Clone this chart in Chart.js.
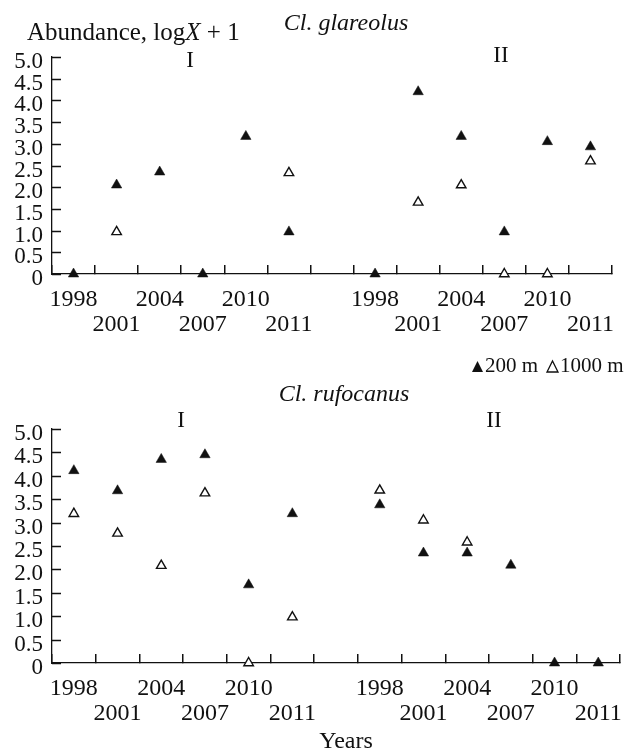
<!DOCTYPE html>
<html>
<head>
<meta charset="utf-8">
<script src="https://cdn.jsdelivr.net/npm/chart.js@4/dist/chart.umd.min.js"></script>
<style>
  body { margin: 0; background: #fff; }
  #wrap { position: relative; width: 627px; height: 754px; }
  canvas { position: absolute; left: 0; }
</style>
</head>
<body>
<div id="wrap">
  <canvas id="glareolus" width="627" height="340" style="top:0"></canvas>
  <canvas id="rufocanus" width="627" height="414" style="top:340px"></canvas>
</div>
<script>
const years = ["1998", "2001", "2004", "2007", "2010", "2011"];
const yTickLabels = ["0", "0.5", "1.0", "1.5", "2.0", "2.5", "3.0", "3.5", "4.0", "4.5", "5.0"];
const seriesNames = ["200 m", "1000 m"];

// Cl. glareolus, sites I and II
const glaI200 = [0, 2.05, 2.35, 0, 3.17, 0.97];
const glaI1000 = [null, 0.97, null, null, null, 2.33];
const glaII200 = [0, 4.2, 3.17, 0.97, 3.05, 2.93];
const glaII1000 = [null, 1.65, 2.05, 0, 0, 2.6];

// Cl. rufocanus, sites I and II
const rufI200 = [4.11, 3.68, 4.35, 4.45, 1.67, 3.19];
const rufI1000 = [3.19, 2.77, 2.08, 3.63, 0, 0.98];
const rufII200 = [3.38, 2.35, 2.35, 2.09, 0, 0];
const rufII1000 = [3.69, 3.05, 2.58, null, null, null];

const FONT = "'Liberation Serif', 'Times New Roman', serif";
const INK = "#111";

// one empty slot between site I and site II
const slotLabels = [...years, "", ...years];
const join = (a, b) => [...a, null, ...b];

function drawParts(ctx, parts, x, y, size, align) {
  ctx.save();
  ctx.fillStyle = INK;
  ctx.textBaseline = "alphabetic";
  let total = 0;
  parts.forEach(p => {
    ctx.font = (p.italic ? "italic " : "") + size + "px " + FONT;
    p.w = ctx.measureText(p.t).width;
    total += p.w;
  });
  let cx = align === "center" ? x - total / 2 : x;
  parts.forEach(p => {
    ctx.font = (p.italic ? "italic " : "") + size + "px " + FONT;
    ctx.fillText(p.t, cx, y);
    cx += p.w;
  });
  ctx.restore();
}

function triangle(ctx, x, base, w, h, filled) {
  ctx.beginPath();
  ctx.moveTo(x, base);
  ctx.lineTo(x + w, base);
  ctx.lineTo(x + w / 2, base - h);
  ctx.closePath();
  if (filled) { ctx.fillStyle = INK; ctx.fill(); }
  else { ctx.fillStyle = "#fff"; ctx.fill(); ctx.lineWidth = 1.3; ctx.strokeStyle = INK; ctx.stroke(); }
}

// short y tick marks pointing into the plot
function drawYTicks(chart) {
  const ctx = chart.ctx;
  const area = chart.chartArea;
  const y = chart.scales.y;
  ctx.save();
  ctx.strokeStyle = INK;
  ctx.lineWidth = 1.5;
  ctx.beginPath();
  for (let i = 0; i < yTickLabels.length; i++) {
    const py = Math.round(y.getPixelForValue(i * 0.5)) + 0.5;
    ctx.moveTo(area.left, py);
    ctx.lineTo(area.left + 9, py);
  }
  ctx.stroke();
  ctx.restore();
}

const notes = {
  id: "notes",
  afterDraw(chart, args, opts) {
    const ctx = chart.ctx;
    drawYTicks(chart);
    (opts.items || []).forEach(n => drawParts(ctx, n.parts, n.x, n.y, n.size, n.align));
    if (opts.legend) {
      const l = opts.legend;
      triangle(ctx, l.x, l.y, 11, 11, true);
      drawParts(ctx, [{ t: seriesNames[0] }], l.x + 13, l.y, 21, "left");
      triangle(ctx, l.x + 75, l.y, 11, 11, false);
      drawParts(ctx, [{ t: seriesNames[1] }], l.x + 88, l.y, 21, "left");
    }
  }
};

function makeChart(id, v200, v1000, axisHeight, padding, noteOpts) {
  return new Chart(document.getElementById(id), {
    type: "line",
    data: {
      labels: slotLabels,
      datasets: [
        {
          label: seriesNames[1],
          data: v1000,
          showLine: false,
          pointStyle: "triangle",
          pointRadius: 5.5,
          pointBackgroundColor: "#fff",
          pointBorderColor: INK,
          pointBorderWidth: 1.4,
          clip: false
        },
        {
          label: seriesNames[0],
          data: v200,
          showLine: false,
          pointStyle: "triangle",
          pointRadius: 6,
          pointBackgroundColor: INK,
          pointBorderColor: INK,
          pointBorderWidth: 0.5,
          clip: false
        }
      ]
    },
    options: {
      responsive: false,
      animation: false,
      events: [],
      layout: { padding: padding },
      plugins: {
        legend: { display: false },
        tooltip: { enabled: false },
        notes: noteOpts
      },
      scales: {
        x: {
          type: "category",
          offset: true,
          grid: {
            display: true,
            offset: true,
            drawOnChartArea: false,
            drawTicks: true,
            tickLength: -9,
            tickColor: INK,
            tickWidth: 1.5,
            color: INK,
            lineWidth: 1.5
          },
          border: { display: true, color: INK, width: 1.3 },
          ticks: {
            autoSkip: false,
            maxRotation: 0,
            minRotation: 0,
            padding: 22,
            color: INK,
            font: { family: FONT, size: 24, lineHeight: 1.06 },
            callback: function (value, index) {
              const lbl = this.getLabelForValue(value);
              if (!lbl) return "";
              const j = index < years.length ? index : index - years.length - 1;
              return j % 2 === 0 ? [lbl, ""] : ["", lbl];
            }
          },
          afterFit: s => { s.height = axisHeight; s.paddingLeft = 0; s.paddingRight = 0; }
        },
        y: {
          min: 0,
          max: 5,
          grid: { display: false, drawTicks: false },
          border: { display: true, color: INK, width: 1.3 },
          ticks: {
            stepSize: 0.5,
            autoSkip: false,
            padding: 9,
            labelOffset: 5,
            color: INK,
            font: { family: FONT, size: 23 },
            callback: (value, index) => yTickLabels[index]
          },
          afterFit: s => { s.width = 52; s.paddingTop = 0; s.paddingBottom = 0; }
        }
      }
    },
    plugins: [notes]
  });
}

makeChart("glareolus", join(glaI200, glaII200), join(glaI1000, glaII1000), 66,
  { top: 57, right: 15, left: 0, bottom: 0 },
  {
    items: [
      { parts: [{ t: "Abundance, log" }, { t: "X", italic: true }, { t: " + 1" }], x: 27, y: 40, size: 25, align: "left" },
      { parts: [{ t: "Cl. glareolus", italic: true }], x: 346, y: 30, size: 24, align: "center" },
      { parts: [{ t: "I" }], x: 190, y: 67, size: 23, align: "center" },
      { parts: [{ t: "II" }], x: 501, y: 62, size: 23, align: "center" }
    ]
  });

makeChart("rufocanus", join(rufI200, rufII200), join(rufI1000, rufII1000), 91,
  { top: 89, right: 0, left: 0, bottom: 0 },
  {
    items: [
      { parts: [{ t: "Cl. rufocanus", italic: true }], x: 344, y: 61, size: 24, align: "center" },
      { parts: [{ t: "I" }], x: 181, y: 87, size: 23, align: "center" },
      { parts: [{ t: "II" }], x: 494, y: 87, size: 23, align: "center" },
      { parts: [{ t: "Years" }], x: 346, y: 408, size: 24, align: "center" }
    ],
    legend: { x: 472, y: 32 }
  });
</script>
</body>
</html>
